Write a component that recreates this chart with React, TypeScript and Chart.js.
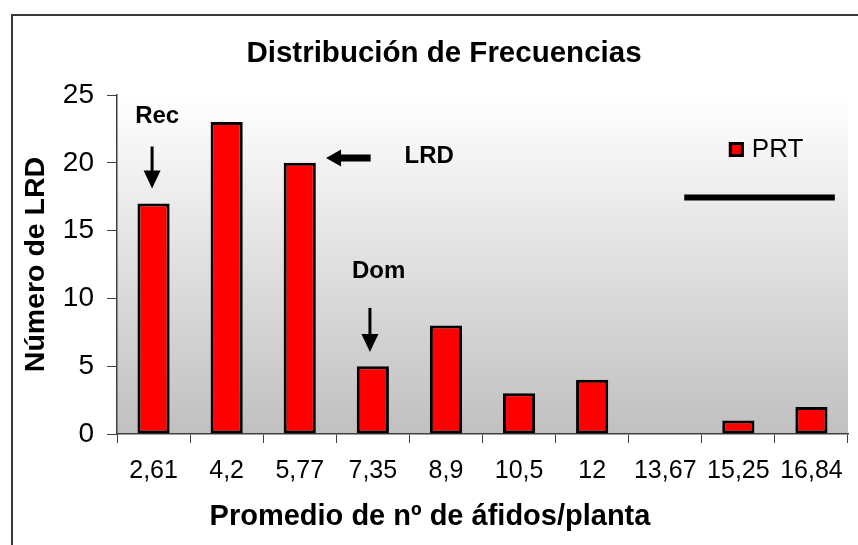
import React, { useEffect, useRef } from 'react';
import { Chart, registerables } from 'chart.js';

Chart.register(...registerables);

// ---- data ----
const categories = ['2,61', '4,2', '5,77', '7,35', '8,9', '10,5', '12', '13,67', '15,25', '16,84'];
const prtValues = [17, 23, 20, 5, 8, 3, 4, 0, 1, 2];
const seriesLabel = 'PRT';
const yTickValues = [0, 5, 10, 15, 20, 25];
const chartTitle = 'Distribución de Frecuencias';
const xAxisTitle = 'Promedio de nº de áfidos/planta';
const yAxisTitle = 'Número de LRD';

// annotation anchors, in data units (category index, value)
const recLabel = 'Rec';
const recText = [0.05, 23.4];
const recArrow = [-0.02, 21.2, 18.1];
const lrdLabel = 'LRD';
const lrdText = [3.77, 20.45];
const lrdArrow = [2.97, 2.36, 20.35];
const domLabel = 'Dom';
const domText = [3.08, 12.0];
const domArrow = [2.96, 9.3, 6.05];
const blackLine = [7.26, 9.32, 17.44];
const legendAnchor = [7.87, 20.98];

const FONT = "'Liberation Sans', Arial, Helvetica, sans-serif";

const decorPlugin = {
  id: 'decor',
  afterLayout(chart: any) {
    const tb = chart.titleBlock;
    if (tb) {
      tb.left += 13;
      tb.right += 13;
    }
  },
  beforeDraw(chart: any) {
    const { ctx, chartArea: a } = chart;
    ctx.save();
    const g = ctx.createLinearGradient(0, a.top, 0, a.bottom);
    g.addColorStop(0, '#ffffff');
    g.addColorStop(1, '#c0c0c0');
    ctx.fillStyle = g;
    ctx.fillRect(a.left, a.top, a.right - a.left, a.bottom - a.top);
    ctx.strokeStyle = '#3a3a3a';
    ctx.lineWidth = 2;
    ctx.strokeRect(12, 15, chart.width + 50, chart.height + 50);
    ctx.restore();
  },
  afterDraw(chart: any) {
    // x-axis title, centred under the whole figure as in the reference
    const { ctx } = chart;
    ctx.save();
    ctx.fillStyle = '#000';
    ctx.font = `bold 29px ${FONT}`;
    ctx.textAlign = 'center';
    ctx.textBaseline = 'middle';
    ctx.fillText(xAxisTitle, 430, 517);
    ctx.restore();
  },
  afterDatasetsDraw(chart: any) {
    const { ctx } = chart;
    const xs = chart.scales.x;
    const ys = chart.scales.y;
    const px = (i: number) => xs.getPixelForValue(i);
    const py = (v: number) => ys.getPixelForValue(v);
    ctx.save();
    ctx.fillStyle = '#000';
    ctx.strokeStyle = '#000';

    const downArrow = (xi: number, vTop: number, vTip: number) => {
      const x = px(xi);
      const y0 = py(vTop);
      const y1 = py(vTip);
      ctx.lineWidth = 3;
      ctx.beginPath();
      ctx.moveTo(x, y0);
      ctx.lineTo(x, y1 - 8);
      ctx.stroke();
      ctx.beginPath();
      ctx.moveTo(x - 8.5, y1 - 18);
      ctx.lineTo(x + 8.5, y1 - 18);
      ctx.lineTo(x, y1);
      ctx.closePath();
      ctx.fill();
    };

    // text labels
    ctx.font = `bold 24px ${FONT}`;
    ctx.textAlign = 'center';
    ctx.textBaseline = 'middle';
    ctx.fillText(recLabel, px(recText[0]), py(recText[1]));
    ctx.fillText(lrdLabel, px(lrdText[0]), py(lrdText[1]));
    ctx.fillText(domLabel, px(domText[0]), py(domText[1]));

    downArrow(recArrow[0], recArrow[1], recArrow[2]);
    downArrow(domArrow[0], domArrow[1], domArrow[2]);

    // left arrow (LRD)
    {
      const xTail = px(lrdArrow[0]);
      const xTip = px(lrdArrow[1]);
      const y = py(lrdArrow[2]);
      ctx.lineWidth = 7;
      ctx.beginPath();
      ctx.moveTo(xTail, y);
      ctx.lineTo(xTip + 10, y);
      ctx.stroke();
      ctx.beginPath();
      ctx.moveTo(xTip, y);
      ctx.lineTo(xTip + 15, y - 8.5);
      ctx.lineTo(xTip + 15, y + 8.5);
      ctx.closePath();
      ctx.fill();
    }

    // black horizontal line
    ctx.lineWidth = 6;
    ctx.beginPath();
    ctx.moveTo(px(blackLine[0]), py(blackLine[2]));
    ctx.lineTo(px(blackLine[1]), py(blackLine[2]));
    ctx.stroke();

    // legend
    const ds = chart.data.datasets[0];
    const lx = px(legendAnchor[0]);
    const ly = py(legendAnchor[1]);
    ctx.fillStyle = ds.backgroundColor;
    ctx.fillRect(lx, ly - 7.5, 15, 15);
    ctx.strokeStyle = ds.borderColor;
    ctx.lineWidth = 3;
    ctx.strokeRect(lx + 1.5, ly - 6, 12, 12);
    ctx.fillStyle = '#000';
    ctx.font = `26px ${FONT}`;
    ctx.textAlign = 'left';
    ctx.fillText(ds.label, lx + 23, ly);
    ctx.restore();
  },
};

export default function App() {
  const ref = useRef<HTMLCanvasElement>(null);

  useEffect(() => {
    if (!ref.current) return;
    const chart = new Chart(ref.current, {
      type: 'bar',
      data: {
        labels: categories,
        datasets: [
          {
            label: seriesLabel,
            data: prtValues,
            backgroundColor: '#ff0000',
            borderColor: '#000000',
            borderWidth: 3,
            borderSkipped: false,
            barPercentage: 0.44,
            categoryPercentage: 1,
          },
        ],
      },
      options: {
        responsive: false,
        animation: false,
        devicePixelRatio: 1,
        layout: { padding: { left: 14, right: 10, top: 0, bottom: 0 } },
        plugins: {
          legend: { display: false },
          tooltip: { enabled: false },
          title: {
            display: true,
            text: chartTitle,
            color: '#000',
            font: { family: FONT, size: 29.5, weight: 'bold' },
            padding: { top: 36, bottom: 23.6 },
          },
        },
        scales: {
          x: {
            grid: {
              display: true,
              drawOnChartArea: false,
              drawTicks: true,
              tickLength: 9,
              color: '#404040',
              lineWidth: 1,
              offset: true,
            },
            border: { display: true, color: '#404040', width: 1.5 },
            ticks: {
              color: '#000',
              font: { family: FONT, size: 25 },
              padding: 13,
              maxRotation: 0,
              minRotation: 0,
              autoSkip: false,
            },
            title: { display: false, text: xAxisTitle },
            afterFit: (s: any) => {
              s.height = 111;
              s.paddingLeft = 0;
              s.paddingRight = 0;
            },
          },
          y: {
            min: 0,
            max: 25,
            afterBuildTicks: (s: any) => {
              s.ticks = yTickValues.map((v) => ({ value: v }));
            },
            grid: {
              display: true,
              drawOnChartArea: false,
              drawTicks: true,
              tickLength: 10,
              color: '#404040',
            },
            border: { display: true, color: '#404040', width: 1.5 },
            ticks: {
              color: '#000',
              font: { family: FONT, size: 28 },
              padding: 13,
            },
            title: {
              display: true,
              text: yAxisTitle,
              color: '#000',
              font: { family: FONT, size: 28.5, weight: 'bold' },
              padding: { top: 5, bottom: 0 },
            },
            afterFit: (s: any) => {
              s.width = 103;
              s.paddingTop = 0;
              s.paddingBottom = 0;
            },
          },
        },
      } as any,
      plugins: [decorPlugin],
    });
    return () => chart.destroy();
  }, []);

  return (
    <div style={{ position: 'fixed', left: 0, top: 0, width: 858, height: 545, background: '#fff' }}>
      <canvas ref={ref} width={858} height={545} style={{ display: 'block', width: 858, height: 545 }} />
    </div>
  );
}
